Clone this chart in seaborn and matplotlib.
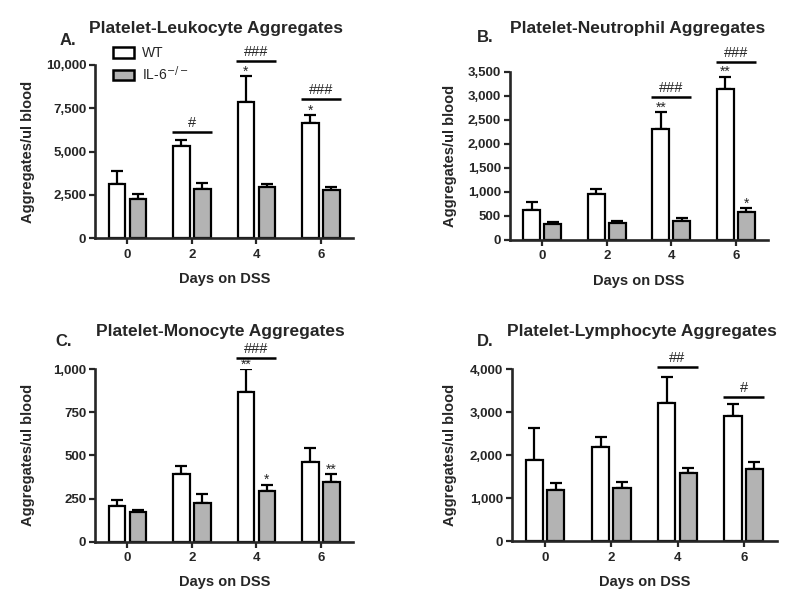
import numpy as np
import pandas as pd
import matplotlib
matplotlib.use("Agg")
import matplotlib.pyplot as plt
import seaborn as sns
from matplotlib.ticker import FuncFormatter
from matplotlib.patches import Patch

days = ["0", "2", "4", "6"]
groups = ["WT", "IL-6$^{-/-}$"]
colors = ["white", "#b3b3b3"]

# mean values and upper error (SEM)
leuko_wt = [3100, 5300, 7880, 6650]
leuko_wt_err = [780, 370, 1460, 450]
leuko_ko = [2280, 2850, 2930, 2780]
leuko_ko_err = [260, 330, 220, 180]

neutro_wt = [625, 957, 2310, 3140]
neutro_wt_err = [160, 97, 355, 265]
neutro_ko = [333, 360, 401, 589]
neutro_ko_err = [48, 35, 50, 76]

mono_wt = [207, 392, 869, 463]
mono_wt_err = [34, 48, 129, 81]
mono_ko = [172, 222, 293, 347]
mono_ko_err = [13, 52, 36, 43]

lympho_wt = [1892, 2193, 3212, 2919]
lympho_wt_err = [749, 216, 610, 278]
lympho_ko = [1197, 1243, 1575, 1683]
lympho_ko_err = [147, 132, 124, 163]

# significance: (day index, line height, label)
leuko_hash = [(1, 6130, "#"), (2, 10230, "###"), (3, 8030, "###")]
neutro_hash = [(2, 2980, "###"), (3, 3700, "###")]
mono_hash = [(2, 1062, "###")]
lympho_hash = [(2, 4040, "##"), (3, 3345, "#")]

# stars: (day index, group index, label)
leuko_stars = [(2, 0, "*"), (3, 0, "*")]
neutro_stars = [(2, 0, "**"), (3, 0, "**"), (3, 1, "*")]
mono_stars = [(2, 0, "**"), (2, 1, "*"), (3, 1, "**")]
lympho_stars = []

panels = [
    ("A.", "Platelet-Leukocyte Aggregates", leuko_wt, leuko_wt_err, leuko_ko, leuko_ko_err,
     leuko_hash, leuko_stars, [0, 2500, 5000, 7500, 10000]),
    ("B.", "Platelet-Neutrophil Aggregates", neutro_wt, neutro_wt_err, neutro_ko, neutro_ko_err,
     neutro_hash, neutro_stars, [0, 500, 1000, 1500, 2000, 2500, 3000, 3500]),
    ("C.", "Platelet-Monocyte Aggregates", mono_wt, mono_wt_err, mono_ko, mono_ko_err,
     mono_hash, mono_stars, [0, 250, 500, 750, 1000]),
    ("D.", "Platelet-Lymphocyte Aggregates", lympho_wt, lympho_wt_err, lympho_ko, lympho_ko_err,
     lympho_hash, lympho_stars, [0, 1000, 2000, 3000, 4000]),
]

sns.set_style("ticks")
plt.rcParams["font.family"] = ["Liberation Sans", "DejaVu Sans"]

fig = plt.figure(figsize=(8, 6), dpi=100)
axes_pos = [
    [0.119, 0.603, 0.3225, 0.289],
    [0.6375, 0.600, 0.3225, 0.280],
    [0.119, 0.097, 0.3225, 0.288],
    [0.640, 0.098, 0.331, 0.287],
]
ylabel_x = [-0.233, -0.205, -0.233, -0.208]
letter_pos = [(0.075, 0.933), (0.596, 0.938), (0.069, 0.430), (0.596, 0.430)]
title_pos = [(0.27, 0.953), (0.797, 0.953), (0.275, 0.447), (0.803, 0.447)]

fmt = FuncFormatter(lambda v, p: f"{int(v):,}")

for i, (letter, title, wt, wt_err, ko, ko_err, hashes, stars, yticks) in enumerate(panels):
    ax = fig.add_axes(axes_pos[i])
    df = pd.DataFrame({
        "day": days * 2,
        "group": [groups[0]] * 4 + [groups[1]] * 4,
        "value": wt + ko,
    })
    sns.barplot(data=df, x="day", y="value", hue="group", hue_order=groups,
                palette=colors, edgecolor="black", linewidth=1.6, width=0.65,
                gap=0.2, errorbar=None, legend=False, ax=ax, zorder=2)
    errs = [wt_err, ko_err]
    tops = []
    bar_sets = list(ax.containers)
    for g, cont in enumerate(bar_sets):
        xs = [b.get_x() + b.get_width() / 2 for b in cont]
        ys = [b.get_height() for b in cont]
        ax.errorbar(xs, ys, yerr=[np.zeros(4), errs[g]], fmt="none", ecolor="black",
                    elinewidth=1.6, capsize=4.5, capthick=1.6, zorder=1)
        tops.append([(x, y + e) for x, y, e in zip(xs, ys, errs[g])])

    ymax = yticks[-1]
    for d, y, txt in hashes:
        ax.plot([d - 0.31, d + 0.31], [y, y], color="black", lw=1.8, clip_on=False,
                solid_capstyle="butt")
        ax.annotate(txt, (d, y), xytext=(0, 1.5), textcoords="offset points",
                    ha="center", va="bottom", fontsize=10.5, annotation_clip=False)
    for d, g, txt in stars:
        x, y = tops[g][d]
        ax.annotate(txt, (x, y), xytext=(0, 0.5), textcoords="offset points",
                    ha="center", va="baseline", fontsize=10, annotation_clip=False)

    ax.set_ylim(0, ymax)
    ax.set_xlim(-0.5, 3.5)
    ax.set_yticks(yticks)
    ax.yaxis.set_major_formatter(fmt)
    sns.despine(ax=ax)
    for s in ["left", "bottom"]:
        ax.spines[s].set_linewidth(1.9)
    ax.tick_params(axis="both", length=4.5, width=1.6, labelsize=9.5, pad=2)
    ax.tick_params(axis="x", pad=3)
    for lab in ax.get_xticklabels() + ax.get_yticklabels():
        lab.set_fontweight("bold")
    ax.set_xlabel("Days on DSS", fontsize=10.5, fontweight="bold", labelpad=8)
    ax.set_ylabel("Aggregates/ul blood", fontsize=10.5, fontweight="bold")
    ax.yaxis.set_label_coords(ylabel_x[i], 0.5)

    fig.text(*letter_pos[i], letter, fontsize=12, fontweight="bold", ha="left", va="center")
    fig.text(*title_pos[i], title, fontsize=12.5, fontweight="bold", ha="center", va="center")

    if i == 0:
        handles = [Patch(facecolor=c, edgecolor="black", linewidth=1.8) for c in colors]
        ax.legend(handles, groups, loc="upper left", bbox_to_anchor=(0.02, 1.18),
                  frameon=False, fontsize=10, handlelength=1.5, handleheight=0.8,
                  labelspacing=0.3, handletextpad=0.6)

fig.savefig("out.png", dpi=100, facecolor="white")
